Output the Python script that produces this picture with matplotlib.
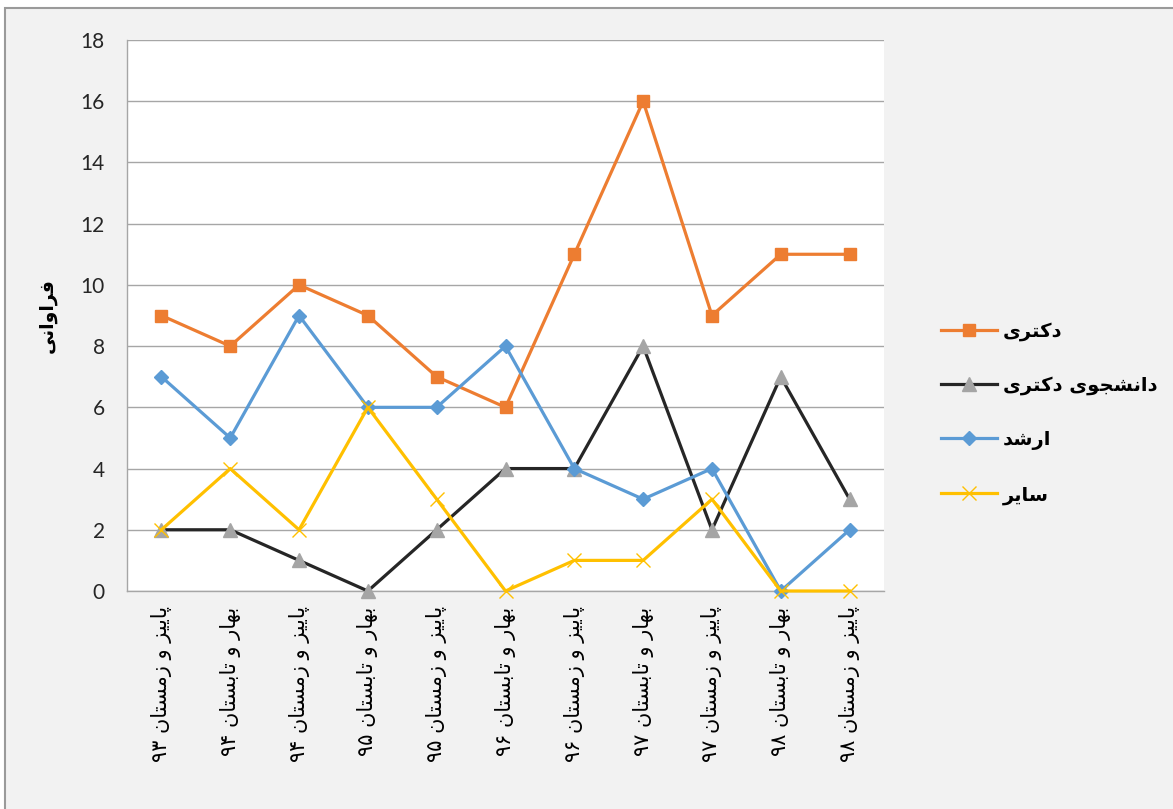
import matplotlib
matplotlib.use('Agg')
import matplotlib.pyplot as plt
from matplotlib.patches import Rectangle

# data
periods = ['پاییز و زمستان ۹۳', 'بهار و تابستان ۹۴', 'پاییز و زمستان ۹۴',
           'بهار و تابستان ۹۵', 'پاییز و زمستان ۹۵', 'بهار و تابستان ۹۶',
           'پاییز و زمستان ۹۶', 'بهار و تابستان ۹۷', 'پاییز و زمستان ۹۷',
           'بهار و تابستان ۹۸', 'پاییز و زمستان ۹۸']
doctor = [9, 8, 10, 9, 7, 6, 11, 16, 9, 11, 11]
phd_student = [2, 2, 1, 0, 2, 4, 4, 8, 2, 7, 3]
masters = [7, 5, 9, 6, 6, 8, 4, 3, 4, 0, 2]
other = [2, 4, 2, 6, 3, 0, 1, 1, 3, 0, 0]
series_names = ['دکتری', 'دانشجوی دکتری', 'ارشد', 'سایر']
y_label = 'فراوانی'
y_ticks = list(range(0, 19, 2))

# matplotlib has no Arabic shaping, so map letters to presentation forms
# (isolated, final, initial, medial); None = letter does not join forward
FORMS = {
    'ا': ('\uFE8D', '\uFE8E', None, None),
    'ب': ('\uFE8F', '\uFE90', '\uFE91', '\uFE92'),
    'پ': ('\uFB56', '\uFB57', '\uFB58', '\uFB59'),
    'ت': ('\uFE95', '\uFE96', '\uFE97', '\uFE98'),
    'ج': ('\uFE9D', '\uFE9E', '\uFE9F', '\uFEA0'),
    'د': ('\uFEA9', '\uFEAA', None, None),
    'ر': ('\uFEAD', '\uFEAE', None, None),
    'ز': ('\uFEAF', '\uFEB0', None, None),
    'س': ('\uFEB1', '\uFEB2', '\uFEB3', '\uFEB4'),
    'ش': ('\uFEB5', '\uFEB6', '\uFEB7', '\uFEB8'),
    'ف': ('\uFED1', '\uFED2', '\uFED3', '\uFED4'),
    'ک': ('\uFB8E', '\uFB8F', '\uFB90', '\uFB91'),
    'م': ('\uFEE1', '\uFEE2', '\uFEE3', '\uFEE4'),
    'ن': ('\uFEE5', '\uFEE6', '\uFEE7', '\uFEE8'),
    'و': ('\uFEED', '\uFEEE', None, None),
    'ه': ('\uFEE9', '\uFEEA', '\uFEEB', '\uFEEC'),
    'ی': ('\uFBFC', '\uFBFD', '\uFBFE', '\uFBFF'),
}
DIGITS = '۰۱۲۳۴۵۶۷۸۹'


def shape_word(w):
    out = []
    for i, c in enumerate(w):
        if c not in FORMS:
            out.append(c)
            continue
        iso, fin, ini, med = FORMS[c]
        prev = w[i - 1] if i > 0 else None
        nxt = w[i + 1] if i + 1 < len(w) else None
        join_prev = prev in FORMS and FORMS[prev][2] is not None
        join_next = nxt in FORMS and ini is not None
        if join_prev and join_next:
            out.append(med)
        elif join_prev:
            out.append(fin)
        elif join_next:
            out.append(ini)
        else:
            out.append(iso)
    return ''.join(out)


def fa(text):
    # shape each word and put the words in visual (left to right) order
    vis = []
    for tok in text.split(' '):
        if all(ch in DIGITS for ch in tok):
            vis.append(tok)
        else:
            vis.append(shape_word(tok)[::-1])
    return ' '.join(vis[::-1])


W, H = 1173, 809
fig = plt.figure(figsize=(W / 100, H / 100), dpi=100, facecolor='white')
fig.patches.append(Rectangle((5 / W, -0.01), 1.0, (H - 8) / H + 0.01,
                             transform=fig.transFigure, facecolor='#f2f2f2',
                             edgecolor='#9a9a9a', lw=1.5, zorder=-10))

ax = fig.add_axes([127 / W, 218 / H, 757 / W, 551 / H])
ax.set_facecolor('white')

x = list(range(len(periods)))
ax.plot(x, doctor, color='#ED7D31', lw=2.3, marker='s', ms=9,
        mfc='#ED7D31', mec='#ED7D31', clip_on=False, label=fa(series_names[0]), zorder=3)
ax.plot(x, phd_student, color='#262626', lw=2.3, marker='^', ms=10,
        mfc='#A5A5A5', mec='#A5A5A5', clip_on=False, label=fa(series_names[1]), zorder=3)
ax.plot(x, masters, color='#5B9BD5', lw=2.3, marker='D', ms=7,
        mfc='#5B9BD5', mec='#5B9BD5', clip_on=False, label=fa(series_names[2]), zorder=3)
ax.plot(x, other, color='#FFC000', lw=2.3, marker='x', ms=10, mew=1.0,
        clip_on=False, label=fa(series_names[3]), zorder=3)

ax.set_xlim(-0.5, len(periods) - 0.5)
ax.set_ylim(0, 18)
ax.set_yticks(y_ticks)
ax.set_yticklabels([str(v) for v in y_ticks], fontfamily='Lato', fontsize=15, color='#262626')
ax.set_xticks(x)
ax.set_xticklabels([fa(p) for p in periods], rotation=90, ha='center', va='top',
                   fontfamily='DejaVu Sans', fontsize=15, color='#000000')
ax.tick_params(axis='both', length=0)
ax.tick_params(axis='y', pad=16)
ax.tick_params(axis='x', pad=11)

ax.grid(axis='y', color='#a6a6a6', lw=1.0)
ax.set_axisbelow(True)
for side in ['top', 'right']:
    ax.spines[side].set_visible(False)
for side in ['left', 'bottom']:
    ax.spines[side].set_color('#a6a6a6')
    ax.spines[side].set_linewidth(1.0)

ax.set_ylabel(fa(y_label), fontfamily='DejaVu Sans', fontweight='bold',
              fontsize=13.5, labelpad=17)

ax.legend(loc='center left', bbox_to_anchor=(931 / W, (H - 413) / H),
          bbox_transform=fig.transFigure, frameon=False, handlelength=2.9,
          handletextpad=0.3, labelspacing=1.8, borderpad=0,
          prop={'family': 'DejaVu Sans', 'weight': 'bold', 'size': 14})

fig.savefig('out.png', dpi=100, facecolor=fig.get_facecolor())
